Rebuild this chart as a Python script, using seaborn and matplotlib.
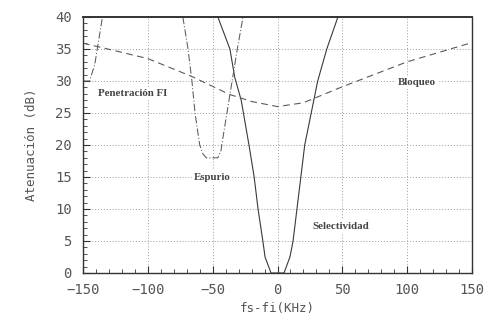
import pandas as pd
import numpy as np
import matplotlib
matplotlib.use("Agg")
import matplotlib.pyplot as plt
import seaborn as sns
from matplotlib.ticker import MultipleLocator

sns.set_style("ticks")

# Curvas (fs-fi en KHz, atenuación en dB)
sel_x = [-46, -36.7, -33, -28, -22, -18, -15, -11.3, -9.6, -5, 5, 9.6, 12, 15, 18, 21, 26, 31, 38, 46.6]
sel_y = [40, 35, 30.6, 27, 20, 15, 10, 5, 2.5, 0, 0, 2.5, 5, 10, 15, 20, 25, 30, 35, 40]

esp_x = [-73, -69, -66, -63.6, -60, -57.5, -55, -46, -43.5, -43, -39, -35, -31, -26.6]
esp_y = [40, 35, 30, 25, 20, 18.6, 18, 18, 19.2, 20, 25, 30, 35, 40]

pen_x = [-150, -145, -141, -135]
pen_y = [30, 30, 32.5, 40]

blo_x = [-150, -135, -100, -66, -37, -20, 0, 20, 50, 100, 150]
blo_y = [35.9, 35.2, 33.5, 30.7, 27.9, 26.8, 26, 26.6, 29.1, 33, 36]

etiquetas = ["Penetración FI", "Espurio", "Selectividad", "Bloqueo"]
etiq_x = [-112, -50.5, 49, 107.5]
etiq_y = [28.1, 15, 7.2, 29.8]

fig = plt.figure(figsize=(4.92, 3.24), dpi=100)
ax = fig.add_axes([83 / 492, 51 / 324, 389 / 492, 256 / 324])

sel = pd.DataFrame({"x": sel_x, "y": sel_y})
esp = pd.DataFrame({"x": esp_x, "y": esp_y})
pen = pd.DataFrame({"x": pen_x, "y": pen_y})
blo = pd.DataFrame({"x": blo_x, "y": blo_y})

sns.lineplot(data=sel, x="x", y="y", sort=False, ax=ax, color="#3a3a3a", lw=0.8)
sns.lineplot(data=esp, x="x", y="y", sort=False, ax=ax, color="#5a5a5a", lw=0.75,
             linestyle=(0, (7, 2, 1, 2)))
sns.lineplot(data=pen, x="x", y="y", sort=False, ax=ax, color="#5a5a5a", lw=0.75,
             linestyle=(0, (7, 2, 1, 2)))
sns.lineplot(data=blo, x="x", y="y", sort=False, ax=ax, color="#5a5a5a", lw=0.8,
             linestyle=(0, (6, 4)))

for t, x, y in zip(etiquetas, etiq_x, etiq_y):
    ax.text(x, y, t, ha="center", va="center", fontsize=7.8, fontweight="bold",
            family="Liberation Serif", color="#444444",
            bbox=dict(facecolor="white", edgecolor="none", pad=1.5))

ax.set_xlim(-150, 150)
ax.set_ylim(0, 40)
ax.xaxis.set_major_locator(MultipleLocator(50))
ax.xaxis.set_minor_locator(MultipleLocator(10))
ax.yaxis.set_major_locator(MultipleLocator(5))
ax.yaxis.set_minor_locator(MultipleLocator(1))
ax.grid(True, which="major", linestyle=(0, (1, 2)), color="#999999", lw=0.7)
ax.tick_params(which="both", direction="in", color="#333333", labelcolor="#555555",
               labelsize=10, top=False, right=False)
ax.tick_params(which="major", length=5, width=0.8)
ax.tick_params(which="minor", length=3, width=0.6)
ax.tick_params(axis="x", pad=7)
ax.tick_params(axis="y", pad=8)
for lab in ax.get_xticklabels() + ax.get_yticklabels():
    lab.set_family("DejaVu Sans Mono")

for s in ax.spines.values():
    s.set_color("#333333")
    s.set_linewidth(1.0)
ax.spines["top"].set_linewidth(1.4)

ax.set_xlabel("fs-fi(KHz)", family="DejaVu Sans Mono", fontsize=9, color="#555555", labelpad=4)
ax.set_ylabel("Atenuación (dB)", family="DejaVu Sans Mono", fontsize=9, color="#555555", labelpad=12)

fig.savefig("out.png", dpi=100)
